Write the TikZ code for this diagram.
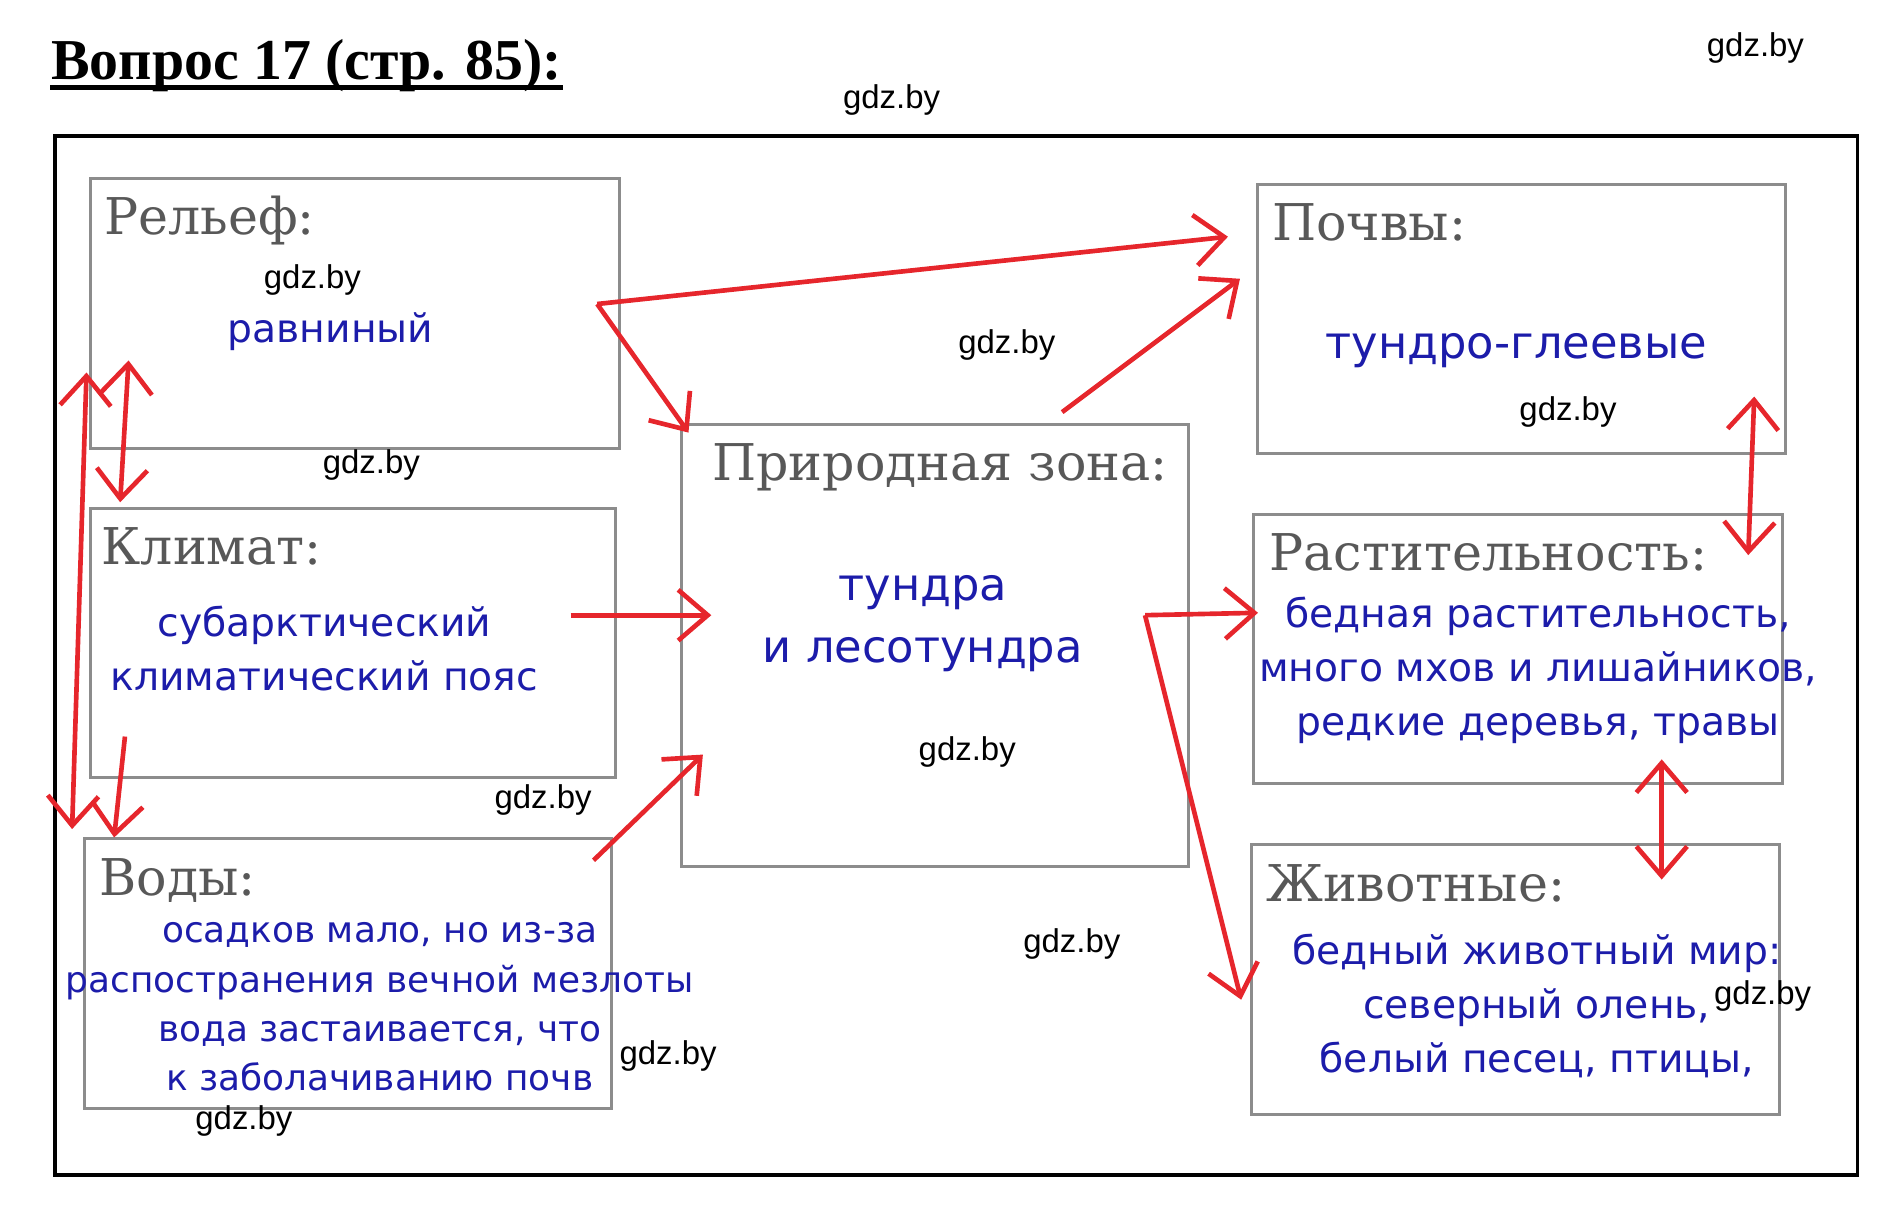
\documentclass[tikz,border=0pt]{standalone}
\usepackage{fontspec}
\setmainfont{DejaVu Serif}
\newfontfamily\headfont{DejaVu Serif}
\newfontfamily\answerfont{DejaVu Sans}
\newfontfamily\markfont{Liberation Sans}
\newfontfamily\titlefont{Liberation Serif}
\usetikzlibrary{arrows.meta}
\definecolor{penred}{RGB}{230,38,44}
\definecolor{inkblue}{RGB}{28,28,170}
\definecolor{headgray}{RGB}{88,88,88}
\definecolor{framegray}{RGB}{140,140,140}
\tikzset{
  >={Straight Barb[length=7pt,width=12pt]},
}
\tikzstyle{box}=[draw=framegray,line width=0.7pt,anchor=north west,inner sep=0pt]
\tikzstyle{head}=[text=headgray,font=\headfont\fontsize{12}{14}\selectfont,anchor=base west,inner sep=0pt]
\tikzstyle{answer}=[text=inkblue,font=\answerfont\fontsize{9.3}{12.8}\selectfont,align=center,inner sep=0pt]
\tikzstyle{small}=[text=inkblue,font=\answerfont\fontsize{8.5}{11.7}\selectfont,align=center,inner sep=0pt]
\tikzstyle{big}=[text=inkblue,font=\answerfont\fontsize{10.6}{14.8}\selectfont,align=center,inner sep=0pt]
\tikzstyle{wmark}=[font=\markfont\fontsize{7.8}{9}\selectfont,inner sep=0pt]
\tikzstyle{link}=[penred,line width=1.1pt,->]
\tikzstyle{both}=[penred,line width=1.1pt,<->]

\begin{document}
\begin{tikzpicture}[x=0.1mm,y=-0.1mm]
    \useasboundingbox (0,0) rectangle (1568,1017);
    % heading
    \node[inner sep=0pt,anchor=base west,font=\titlefont\bfseries\fontsize{13.7}{16}\selectfont] (title) at (42,66) {Вопрос 17 (стр. 85):};
    \draw[line width=1.1pt] ([yshift=-2pt]title.base west) -- ([yshift=-2pt]title.base east);
    \draw[line width=0.9pt] (46,113) rectangle (1546,978);

    % boxes
    \node[box,minimum width=44mm,minimum height=22.5mm] (relief) at (74,147) {};
    \node[box,minimum width=43.7mm,minimum height=22.4mm] (climate) at (74,422) {};
    \node[box,minimum width=43.9mm,minimum height=22.4mm] (water) at (69,697) {};
    \node[box,minimum width=42.2mm,minimum height=36.8mm] (zone) at (566,352) {};
    \node[box,minimum width=44mm,minimum height=22.4mm] (soil) at (1045,152) {};
    \node[box,minimum width=44mm,minimum height=22.4mm] (flora) at (1042,427) {};
    \node[box,minimum width=44mm,minimum height=22.4mm] (fauna) at (1040,702) {};

    % headings of the boxes
    \node[head] (reliefT) at (86,195) {Рельеф:};
    \node[head] (climateT) at (84,470) {Климат:};
    \node[head] (waterT) at (82,745) {Воды:};
    \node[head] (zoneT) at (592,400) {Природная зона:};
    \node[head] (soilT) at (1058,200) {Почвы:};
    \node[head] (floraT) at (1056,475) {Растительность:};
    \node[head] (faunaT) at (1053,750) {Животные:};

    % answers
    \node[answer] (reliefA) at (275,276) {равниный};
    \node[answer] (climateA) at (270,540) {субарктический\\климатический пояс};
    \node[small] (waterA) at (316,838) {осадков мало, но из-за\\распостранения вечной мезлоты\\вода застаивается, что\\к заболачиванию почв};
    \node[big] (zoneA) at (768,519) {тундра\\и лесотундра};
    \node[big] (soilA) at (1262,292) {тундро-глеевые};
    \node[answer] (floraA) at (1280,558) {бедная растительность,\\много мхов и лишайников,\\редкие деревья, травы};
    \node[answer] (faunaA) at (1279,837) {бедный животный мир:\\северный олень,\\белый песец, птицы,};

    % arrow ends
    \coordinate (fork) at (497,253);
    \coordinate (soilIn) at (1022,197);
    \coordinate (zoneCorner) at (573,360);
    \coordinate (zoneOut) at (884,343);
    \coordinate (soilIn2) at (1032,232);
    \coordinate (climateOut) at (475,512);
    \coordinate (zoneIn) at (592,512);
    \coordinate (waterOut) at (494,716);
    \coordinate (zoneIn2) at (585,628);
    \coordinate (split) at (953,512);
    \coordinate (floraIn) at (1047,510);
    \coordinate (faunaIn) at (1033,832);
    \coordinate (reliefLow) at (107,300);
    \coordinate (climateTop) at (100,418);
    \coordinate (reliefSide) at (72,310);
    \coordinate (waterSide) at (60,690);
    \coordinate (climateLow) at (104,613);
    \coordinate (waterTop) at (95,697);
    \coordinate (soilLow) at (1460,330);
    \coordinate (floraTop) at (1455,462);
    \coordinate (floraLow) at (1383,632);
    \coordinate (faunaTop) at (1383,732);

    % arrows
    \draw[link] (fork) -- (soilIn);
    \draw[link] (fork) -- (zoneCorner);
    \draw[link] (zoneOut) -- (soilIn2);
    \draw[link] (climateOut) -- (zoneIn);
    \draw[link] (waterOut) -- (zoneIn2);
    \draw[link] (split) -- (floraIn);
    \draw[link] (split) -- (faunaIn);
    \draw[link] (climateLow) -- (waterTop);
    \draw[both] (reliefLow) -- (climateTop);
    \draw[both] (reliefSide) -- (waterSide);
    \draw[both] (soilLow) -- (floraTop);
    \draw[both] (floraLow) -- (faunaTop);

    % watermarks
    \node[wmark] (m1) at (1461,40) {gdz.by};
    \node[wmark] (m2) at (742,83) {gdz.by};
    \node[wmark] (m3) at (260,233) {gdz.by};
    \node[wmark] (m4) at (838,287) {gdz.by};
    \node[wmark] (m5) at (1305,343) {gdz.by};
    \node[wmark] (m6) at (309,387) {gdz.by};
    \node[wmark] (m7) at (452,666) {gdz.by};
    \node[wmark] (m8) at (805,626) {gdz.by};
    \node[wmark] (m9) at (892,786) {gdz.by};
    \node[wmark] (m10) at (556,879) {gdz.by};
    \node[wmark] (m11) at (1467,829) {gdz.by};
    \node[wmark] (m12) at (203,933) {gdz.by};
\end{tikzpicture}
\end{document}
